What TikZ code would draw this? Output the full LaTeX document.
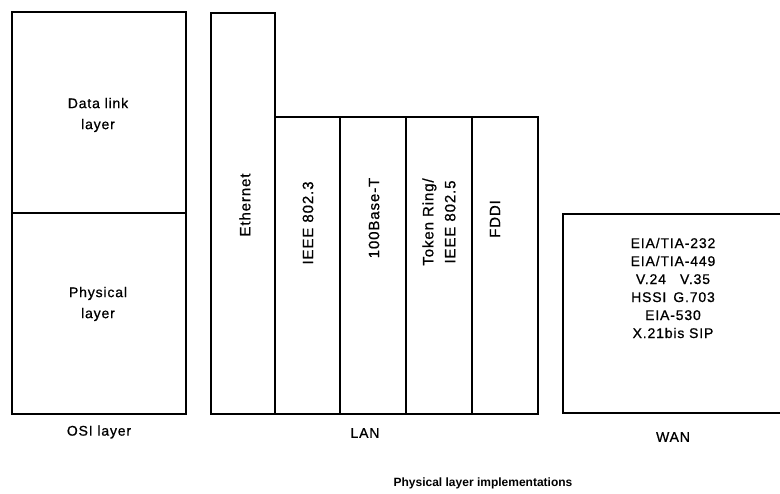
\documentclass[tikz,border=0pt]{standalone}
\usepackage{fontspec}
\setmainfont{Liberation Sans}
\newfontfamily\spaced{Liberation Sans}[LetterSpace=6,FakeBold=0.8]
\begin{document}
\begin{tikzpicture}[x=1pt,y=-1pt,
  box/.style={draw, line width=1.7pt, inner sep=0pt, anchor=north west},
  lbl/.style={font=\spaced\fontsize{14}{21}\selectfont, align=center, inner sep=0pt},
  vlbl/.style={font=\spaced\fontsize{15}{22}\selectfont, rotate=90, align=center, inner sep=0pt},
  list/.style={font=\spaced\fontsize{14}{18}\selectfont, align=center, inner sep=0pt},
  title/.style={font=\bfseries\fontsize{12}{14}\selectfont, inner sep=0pt}]
\useasboundingbox (0,0) rectangle (780,494);

% OSI reference column
\node[box, minimum width=174pt, minimum height=201pt] (dl) at (11,11) {};
\node[box, minimum width=174pt, minimum height=201pt] (phy) at (11,212) {};
\node[lbl] (dltext) at (98,115) {Data link\\layer};
\node[lbl] (phytext) at (98,304) {Physical\\layer};
\node[lbl] (osi) at (99,432) {OSI layer};

% LAN implementations
\node[box, minimum width=64pt, minimum height=401pt] (eth) at (210,12) {};
\node[box, minimum width=65pt, minimum height=297pt] (ieee3) at (274,116) {};
\node[box, minimum width=66pt, minimum height=297pt] (base) at (339,116) {};
\node[box, minimum width=66pt, minimum height=297pt] (token) at (405,116) {};
\node[box, minimum width=66pt, minimum height=297pt] (fddi) at (471,116) {};
\node[vlbl] (ethtext) at (245,205) {Ethernet};
\node[vlbl] (ieee3text) at (308,223) {IEEE 802.3};
\node[vlbl] (basetext) at (374,218) {100Base-T};
\node[vlbl] (tokentext) at (439,222) {Token Ring/\\IEEE 802.5};
\node[vlbl] (fdditext) at (495,219) {FDDI};
\node[lbl] (lan) at (365,433) {LAN};

% WAN implementations (box runs off the right edge)
\node[box, minimum width=225pt, minimum height=199pt] (wan) at (562,213) {};
\node[list] (wantext) at (673,288) {EIA/TIA-232\\EIA/TIA-449\\V.24\quad V.35\\HSSI\enspace G.703\\EIA-530\\X.21bis SIP};
\node[lbl] (wanlabel) at (673,437) {WAN};

\node[title] (caption) at (483,483) {Physical layer implementations};
\end{tikzpicture}
\end{document}
